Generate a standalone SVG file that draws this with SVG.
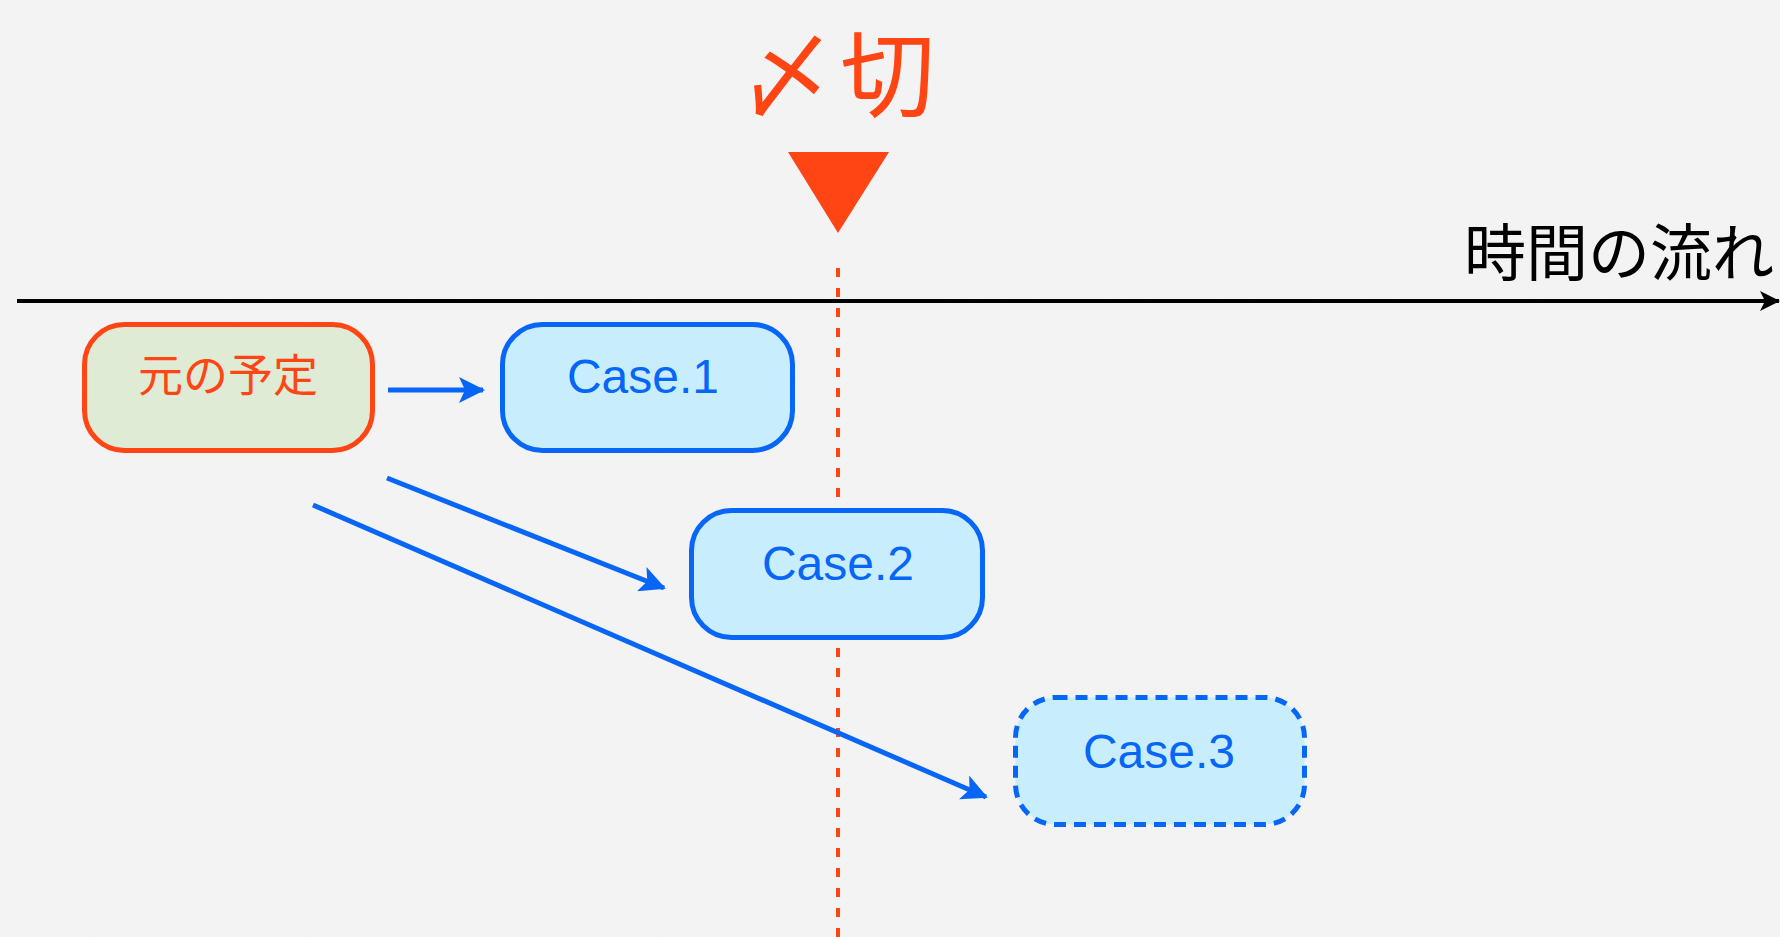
<svg xmlns="http://www.w3.org/2000/svg" width="1780" height="937" viewBox="0 0 1780 937">
  <style>
    .jp { font-family: "Noto Sans CJK JP", "Noto Sans", sans-serif; }
    .en { font-family: "Liberation Sans", Arial, sans-serif; }
    .box-plan { fill: #e0ebd5; stroke: #ff4513; stroke-width: 5; }
    .box-case { fill: #c8eefd; stroke: #0866f7; stroke-width: 5; }
    .box-dashed { stroke-dasharray: 12 8; }
    .case-label { font-size: 48px; fill: #0866f7; text-anchor: middle; }
    .flow { fill: none; stroke: #0866f7; stroke-width: 5; marker-end: url(#arrow-blue); }
  </style>
  <defs>
    <marker id="arrow-blue" markerUnits="userSpaceOnUse" viewBox="0 0 26 26" markerWidth="26" markerHeight="26" refX="24" refY="13" orient="auto">
      <path d="M0,0 L26,13 L0,26 L6,13 Z" fill="#0866f7"/>
    </marker>
    <marker id="arrow-black" markerUnits="userSpaceOnUse" viewBox="0 0 20 20" markerWidth="20" markerHeight="20" refX="19" refY="10" orient="auto">
      <path d="M0,0 L20,10 L0,20 L5,10 Z" fill="#000"/>
    </marker>
    <filter id="paper" x="0" y="0" width="100%" height="100%">
      <feTurbulence type="fractalNoise" baseFrequency="0.9" numOctaves="2" seed="3" result="n"/>
      <feColorMatrix in="n" type="matrix" values="0 0 0 0 1  0 0 0 0 1  0 0 0 0 1  0 0 0 0.10 0"/>
    </filter>
  </defs>

  <!-- paper background -->
  <rect width="1780" height="937" fill="#f2f2f2"/>
  <rect width="1780" height="937" filter="url(#paper)"/>

  <!-- deadline marker -->
  <g id="deadline">
    <text class="jp" x="840" y="110" font-size="95" letter-spacing="6" fill="#ff4513" text-anchor="middle">〆切</text>
    <polygon points="788,152 889,152 838,233" fill="#ff4513"/>
    <line x1="838" y1="268" x2="838" y2="937" stroke="#ff4513" stroke-width="4" stroke-dasharray="9 11"/>
  </g>

  <!-- time axis -->
  <g id="timeline">
    <line x1="17" y1="301" x2="1779" y2="301" stroke="#000" stroke-width="4" marker-end="url(#arrow-black)"/>
    <text class="jp" x="1774" y="276" font-size="62" fill="#000" text-anchor="end">時間の流れ</text>
  </g>

  <!-- nodes -->
  <g id="plan">
    <rect class="box-plan" x="84.5" y="324.5" width="288" height="126" rx="40"/>
    <text class="jp" x="228" y="392" font-size="45" fill="#ff4513" text-anchor="middle">元の予定</text>
  </g>
  <g id="case1">
    <rect class="box-case" x="502.5" y="324.5" width="290" height="126" rx="40"/>
    <text class="en case-label" x="643" y="393">Case.1</text>
  </g>
  <g id="case2">
    <rect class="box-case" x="691.5" y="510.5" width="291" height="127" rx="40"/>
    <text class="en case-label" x="838" y="580">Case.2</text>
  </g>
  <g id="case3">
    <rect class="box-case box-dashed" x="1015.5" y="697.5" width="289" height="127" rx="40"/>
    <text class="en case-label" x="1159" y="768">Case.3</text>
  </g>

  <!-- connectors -->
  <g id="connectors">
    <line class="flow" x1="388" y1="390" x2="483" y2="390"/>
    <line class="flow" x1="387" y1="478" x2="664" y2="588"/>
    <line class="flow" x1="313" y1="505" x2="986" y2="797"/>
  </g>
</svg>
